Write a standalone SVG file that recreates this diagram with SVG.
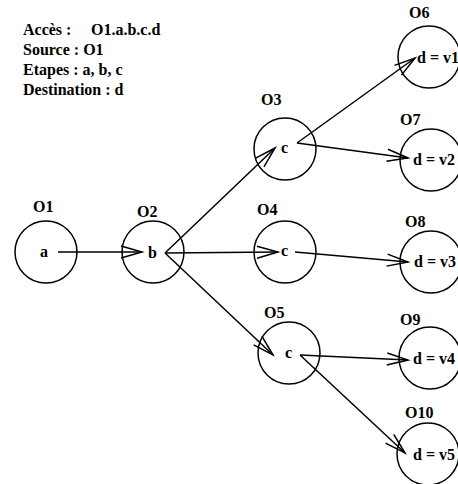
<svg xmlns="http://www.w3.org/2000/svg" width="458" height="484" viewBox="0 0 458 484">
<defs>
<style>
text{font-family:"Liberation Serif","Times New Roman",serif;font-weight:bold;font-size:16px;fill:#000}
.nd{fill:none;stroke:#000;stroke-width:1.5}
.cn line{stroke:#000;stroke-width:1.5;marker-end:url(#ah)}
</style>
<marker id="ah" markerUnits="userSpaceOnUse" markerWidth="24" markerHeight="14" refX="21" refY="6" orient="auto" overflow="visible">
<path d="M0,0 L21,6 L0,12" fill="none" stroke="#000" stroke-width="1.5"/>
</marker>
</defs>
<rect width="458" height="484" fill="#fff"/>
<g id="legend">
<text x="23" y="35">Accès :</text>
<text x="91" y="35">O1.a.b.c.d</text>
<text x="23" y="55">Source : O1</text>
<text x="23" y="75">Etapes : a, b, c</text>
<text x="23" y="95">Destination : d</text>
</g>
<g class="cn" id="connectors">
<line x1="58" y1="252" x2="142" y2="252"/>
<line x1="165" y1="253" x2="275" y2="148"/>
<line x1="165" y1="253" x2="278" y2="252"/>
<line x1="165" y1="253" x2="273" y2="355"/>
<line x1="297" y1="143" x2="415" y2="58"/>
<line x1="297" y1="143" x2="408" y2="158"/>
<line x1="295" y1="252" x2="408" y2="262"/>
<line x1="300" y1="355" x2="408" y2="360"/>
<line x1="300" y1="355" x2="405" y2="453"/>
</g>
<g id="O1"><circle class="nd" cx="46" cy="252" r="31"/><text x="33" y="212">O1</text><text x="40" y="257">a</text></g>
<g id="O2"><circle class="nd" cx="153" cy="252" r="31"/><text x="137" y="217">O2</text><text x="148" y="258">b</text></g>
<g id="O3"><circle class="nd" cx="285" cy="149" r="31"/><text x="261" y="105">O3</text><text x="281" y="153">c</text></g>
<g id="O4"><circle class="nd" cx="285" cy="252" r="31"/><text x="257" y="215">O4</text><text x="281" y="256">c</text></g>
<g id="O5"><circle class="nd" cx="289" cy="353" r="31"/><text x="264" y="318">O5</text><text x="285" y="358">c</text></g>
<g id="O6"><circle class="nd" cx="429" cy="57" r="31"/><text x="409" y="18">O6</text><text x="417" y="63">d = v1</text></g>
<g id="O7"><circle class="nd" cx="431" cy="160" r="31"/><text x="400" y="125">O7</text><text x="413" y="165">d = v2</text></g>
<g id="O8"><circle class="nd" cx="431" cy="262" r="31"/><text x="405" y="227">O8</text><text x="414" y="267">d = v3</text></g>
<g id="O9"><circle class="nd" cx="430" cy="358" r="31"/><text x="400" y="325">O9</text><text x="413" y="364">d = v4</text></g>
<g id="O10"><circle class="nd" cx="428" cy="454" r="31"/><text x="405" y="418">O10</text><text x="413" y="460">d = v5</text></g>
</svg>
